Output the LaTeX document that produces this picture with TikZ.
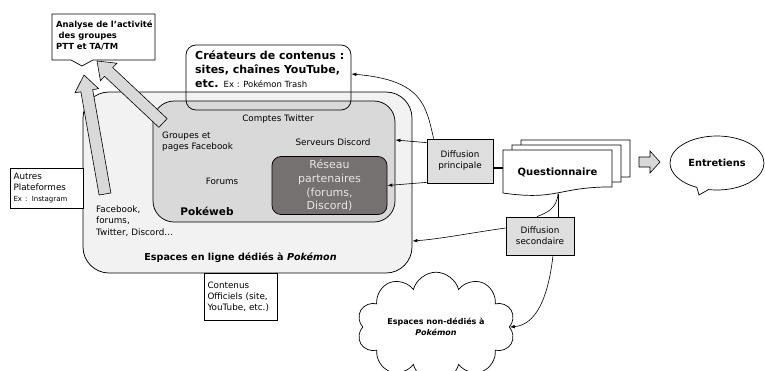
\documentclass[tikz,border=0pt]{standalone}
\usepackage{fontspec}
\setmainfont{DejaVu Sans}
\usetikzlibrary{calc,shapes.symbols,shapes.callouts,arrows.meta}
\definecolor{outerfill}{HTML}{F2F2F2}
\definecolor{pokefill}{HTML}{D9D9D9}
\definecolor{reseaufill}{HTML}{767171}
\definecolor{reseautext}{HTML}{E7E6E6}
\definecolor{difffill}{HTML}{DEDEDE}
\definecolor{arrowfill}{HTML}{D9D9D9}
\newcommand\bkarrow[5]{%
  \coordinate (bkbase) at ($(#2)!#5!(#1)$);
  \draw[blockarrow] ($(#1)!#3!90:(#2)$) -- ($(bkbase)!#3!90:(#2)$) -- ($(bkbase)!#4!90:(#2)$) -- (#2)
    -- ($(bkbase)!#4!-90:(#2)$) -- ($(bkbase)!#3!-90:(#2)$) -- ($(#1)!#3!-90:(#2)$) -- cycle;}
\tikzset{
  stdfont/.style={font=\fontsize{8.8}{11}\selectfont},
  txt/.style={inner sep=0pt},
  boxline/.style={draw=black, line width=0.75pt},
  diffbox/.style={boxline, fill=difffill, align=center, inner sep=0pt},
  whitebox/.style={boxline, fill=white, align=left, text width=66pt, inner xsep=3.5pt, inner ysep=2pt},
  conn/.style={line width=0.6pt, -{Latex[length=5pt,width=3.5pt]}},
  plainline/.style={line width=0.6pt},
  blockarrow/.style={draw=black, fill=arrowfill, line width=0.6pt},
}
\begin{document}
\begin{tikzpicture}[x=1pt,y=-1pt,stdfont]
\useasboundingbox (0,0) rectangle (765,370);

% Analyse callout
\draw[fill=white, line width=0.7pt] (52,14) -- (155,14) -- (155,60) -- (93,60) -- (82,66) -- (71,60) -- (52,60) -- cycle;
\node[txt, anchor=north west, align=left, font=\bfseries\fontsize{8.4}{10.8}\selectfont] (analyse) at (56,20.5)
  {Analyse de l’activité\\\hspace{0.3em}des groupes\\PTT et TA/TM};

% Outer box
\node[boxline, fill=outerfill, rounded corners=26pt, minimum width=329pt, minimum height=181pt, inner sep=0pt] (outer) at (247.5,182.5) {};

% side boxes
\node[whitebox, minimum height=40pt] (autres) at (46.5,188)
  {Autres\\Plateformes\\{\fontsize{7}{9}\selectfont Ex : Instagram}};
\node[whitebox, minimum height=47pt] (contenus) at (240.5,296.5)
  {Contenus\\Officiels (site,\\YouTube, etc.)};

% Pokeweb
\node[boxline, fill=pokefill, rounded corners=21pt, minimum width=242pt, minimum height=121pt, inner sep=0pt] (pokeweb) at (274,161.5) {};

% Reseau
\node[boxline, fill=reseaufill, rounded corners=9pt, minimum width=115pt, minimum height=58pt, inner sep=0pt,
  text=reseautext, font=\fontsize{11}{13.8}\selectfont, align=center] (reseau) at (329.5,185.5)
  {Réseau\\partenaires\\(forums,\\Discord)};

% texts
\node[txt] (twitter) at (278,119) {Comptes Twitter};
\node[txt, anchor=west, align=left] (fbgroups) at (162,141.5) {Groupes et\\pages Facebook};
\node[txt] (serveurs) at (333,142) {Serveurs Discord};
\node[txt] (forums) at (222,181) {Forums};
\node[txt, font=\bfseries\fontsize{10.5}{12}\selectfont] (pokewebtitle) at (207,211) {Pokéweb};
\node[txt, anchor=west, align=left, font=\fontsize{8.8}{11.5}\selectfont] (fbforums) at (96,221) {Facebook,\\forums,\\Twitter, Discord…};
\node[txt, font=\bfseries\fontsize{9.6}{11}\selectfont] (espaces) at (240.5,258) {Espaces en ligne dédiés à \textit{Pokémon}};

% block arrows
\coordinate (a1t) at (105,194);
\coordinate (a1p) at (84,75);
\bkarrow{a1t}{a1p}{6pt}{12pt}{16pt}
\coordinate (a2t) at (163,123);
\coordinate (a2p) at (97,61);
\bkarrow{a2t}{a2p}{6pt}{12pt}{16pt}

% Createurs
\node[boxline, rounded corners=10pt, minimum width=165pt, minimum height=65pt, inner sep=0pt] (createurs) at (268.5,77.5) {};
\node[txt, anchor=north west, align=left, font=\bfseries\fontsize{11}{14}\selectfont] (createurstext) at (195,50)
  {Créateurs de contenus :\\sites, chaînes YouTube,\\etc. {\mdseries\fontsize{8.5}{14}\selectfont Ex : Pokémon Trash}};

% Diffusion principale
\node[diffbox, minimum width=66pt, minimum height=44pt] (dprin) at (460,161) {Diffusion\\principale};

% Questionnaire documents
\draw[fill=white, line width=0.7pt] (521,140) -- (630,140) -- (630,176.9) .. controls (575.5,176.9) and (575.5,190.9) .. (521,183) -- cycle;
\draw[fill=white, line width=0.7pt] (512,145) -- (621,145) -- (621,181.9) .. controls (566.5,181.9) and (566.5,195.9) .. (512,188) -- cycle;
\draw[fill=white, line width=0.7pt] (503,150) -- (612,150) -- (612,186.9) .. controls (557.5,186.9) and (557.5,200.9) .. (503,193) -- cycle;
\node[txt, font=\bfseries\fontsize{10}{12}\selectfont] (quest) at (557.5,172) {Questionnaire};
\coordinate (qleft) at (503,168);
\coordinate (qbottom) at (558,193.5);

% arrow to Entretiens
\coordinate (a3t) at (639,162);
\coordinate (a3p) at (660,162);
\bkarrow{a3t}{a3p}{5pt}{11pt}{10pt}

% Entretiens
\node[ellipse callout, draw, fill=white, line width=0.7pt, minimum width=94pt, minimum height=54pt,
  callout absolute pointer={(699,195)}, font=\bfseries\fontsize{9.8}{12}\selectfont] (entretiens) at (717,163) {Entretiens};

% Diffusion secondaire
\node[diffbox, minimum width=68pt, minimum height=38pt] (dsec) at (540,236) {Diffusion\\secondaire};

% Cloud
\node[cloud, draw, fill=white, line width=0.7pt, cloud puffs=10, aspect=1.7, minimum width=158pt, minimum height=88pt,
  align=center, inner sep=0pt, font=\bfseries\fontsize{8}{11}\selectfont] (cloud) at (436,327)
  {Espaces non-dédiés à\\\textit{Pokémon}};

% connectors
\draw[conn] ([xshift=7pt]dprin.north west) .. controls (426,105) and (422,80) .. ([yshift=3.5pt]createurs.east);
\draw[conn] ([yshift=-4pt]dprin.north west) -- ([yshift=21.5pt]pokeweb.east);
\draw[conn] ([yshift=1pt]dprin.south west) -- (reseau.east);
\draw[line width=1.6pt] ([yshift=-7pt]dprin.east) -- (qleft);
\draw[plainline] (qbottom) -- (qbottom |- dsec.north);
\draw[plainline] (qbottom) .. controls (557,209) and (546,213) .. ([xshift=-3pt]dsec.north);
\draw[conn] ([yshift=8pt]dsec.west) .. controls (470,233) and (440,239) .. ([yshift=-58.5pt]outer.east);
\draw[conn] ([xshift=13pt]dsec.south) .. controls (548,300) and (535,325) .. (cloud.east);
\end{tikzpicture}
\end{document}
